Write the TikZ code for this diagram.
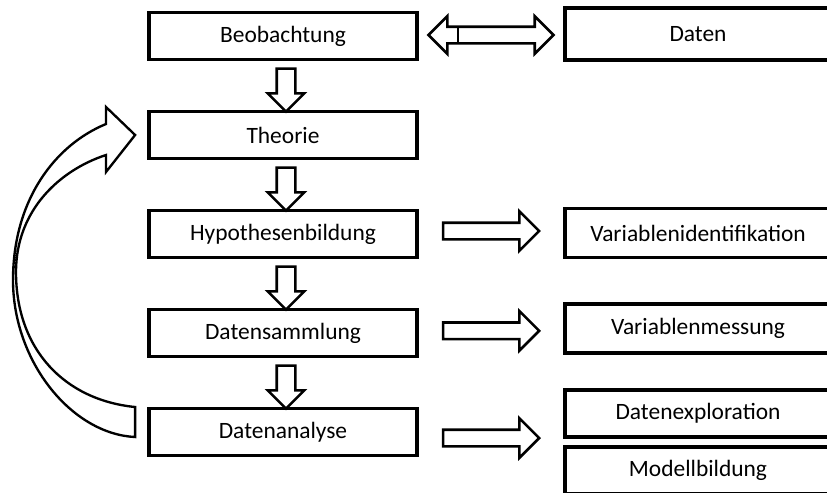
\documentclass[tikz,border=0pt]{standalone}
\usepackage{fontspec}
\setmainfont{Carlito}
\usetikzlibrary{positioning}
\usetikzlibrary{calc}
\usetikzlibrary{shapes.arrows}
\tikzset{box/.style={draw, line width=3.2pt, minimum width=8.04cm, minimum height=1.41cm, inner sep=0pt, font=\fontsize{20}{24}\selectfont}}
\tikzset{rbox/.style={box, minimum width=7.98cm, minimum height=1.47cm}}
\tikzset{downarr/.style={single arrow, draw, line width=2.2pt, inner sep=0pt, inner ysep=0.24cm, minimum height=1.29cm, single arrow head extend=0.27cm, rotate=-90}}
\tikzset{rightarr/.style={single arrow, draw, line width=2.2pt, inner sep=0pt, inner ysep=0.21cm, minimum height=2.88cm, single arrow head extend=0.345cm}}
\tikzset{botharr/.style={double arrow, draw, line width=2.2pt, inner sep=0pt, inner ysep=0.21cm, minimum height=3.75cm, double arrow head extend=0.315cm}}

\begin{document}
\begin{tikzpicture}[x=0.03cm, y=-0.03cm, node distance=2.97cm, on grid]
        \useasboundingbox (0,0) rectangle (827,492);
        % main column
        \node[box] (beob) at (283,36) {Beobachtung};
        \node[box, below=of beob] (theo) {Theorie};
        \node[box, below=of theo] (hyp) {Hypothesenbildung};
        \node[box, below=of hyp] (sam) {Datensammlung};
        \node[box, below=of sam] (ana) {Datenanalyse};
        % right column
        \node[rbox, minimum height=1.56cm, right=12.45cm of beob, yshift=0.06cm] (daten) {Daten};
        \node[rbox, right=12.45cm of hyp, yshift=0.03cm] (varid) {Variablenidentifikation};
        \node[rbox, right=12.45cm of sam, yshift=0.135cm] (varmess) {Variablenmessung};
        \node[rbox, minimum height=1.41cm, right=12.45cm of ana, yshift=0.555cm] (expl) {Datenexploration};
        \node[rbox, minimum height=1.41cm, below=1.71cm of expl] (modell) {Modellbildung};
        % block arrows
        \foreach \a/\b in {beob/theo, theo/hyp, hyp/sam, sam/ana}
            \node[downarr, yshift=0.09cm] (\a-\b) at ($(\a.south)!0.5!(\b.north)$) {};
        \node[botharr] (beob-daten) at ($(beob.east)!0.5!(daten.west)$) {};
        \draw[line width=2.2pt] ($(beob-daten.center)+(-33,7)$) -- ($(beob-daten.center)+(-33,-7)$);
        \node[rightarr, xshift=-0.12cm, yshift=0.075cm] (hyp-varid) at ($(hyp.east)!0.5!(varid.west)$) {};
        \node[rightarr, xshift=-0.12cm] (sam-varmess) at ($(sam.east)!0.5!(varmess.west)$) {};
        \node[rightarr, xshift=-0.12cm, yshift=-0.18cm] (ana-expl) at ($(ana.east)!0.5!(ana.east -| expl.west)$) {};
        % curved arrow back to Theorie
        \coordinate (tip) at ($(theo.west)+(-12,0)$);
        \coordinate (tailout) at ($(ana.west)+(-12,5)$);
        \coordinate (tailin) at ($(ana.west)+(-12,-25)$);
        \draw[line width=2pt, line join=miter] (tailout) .. controls (72,434) and (13,362) .. (13,280)
            .. controls (13,200) and (55,145) .. (106,124) -- (106,107) -- (tip) -- (106,172) -- (106,155)
            .. controls (60,170) and (16,210) .. (16,272) .. controls (16,350) and (65,400) .. (tailin) -- cycle;
    \end{tikzpicture}
\end{document}
